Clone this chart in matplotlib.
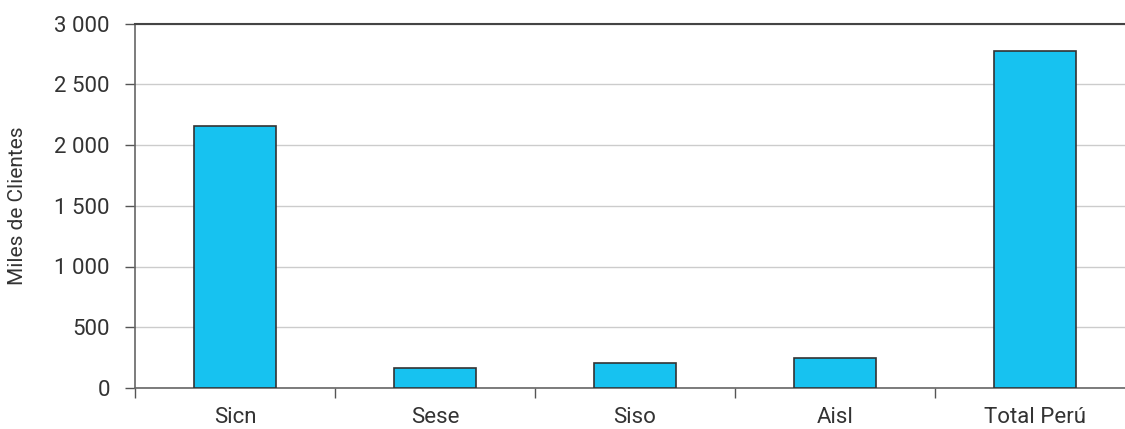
import matplotlib
matplotlib.use("Agg")
import matplotlib.pyplot as plt
from matplotlib.ticker import FixedLocator, FuncFormatter

categories = ["Sicn", "Sese", "Siso", "Aisl", "Total Perú"]
values = [2153, 168, 204, 243, 2777]
yticks = [0, 500, 1000, 1500, 2000, 2500, 3000]

plt.rcParams['font.family'] = ['Roboto', 'DejaVu Sans']

fig = plt.figure(figsize=(11.25, 4.29), dpi=100)
ax = fig.add_axes([135/1125, 41/429, 1000/1125, 364.5/429])

x = list(range(len(categories)))
ax.bar(x, values, width=0.41, color="#17C2F0", edgecolor="#333333", linewidth=1.2, zorder=3)

ax.set_xlim(-0.5, len(categories) - 0.5)
ax.set_ylim(0, 3000)
ax.set_yticks(yticks)
ax.yaxis.set_major_formatter(FuncFormatter(lambda v, p: f"{int(v):,}".replace(",", " ")))
ax.grid(axis="y", color="#cccccc", linewidth=1, zorder=0)

ax.set_xticks(x)
ax.set_xticklabels(categories)
ax.tick_params(axis="x", which="major", length=0, pad=14, labelsize=16, colors="#333333")
ax.xaxis.set_minor_locator(FixedLocator([i - 0.5 for i in range(len(categories) + 1)]))
ax.tick_params(axis="x", which="minor", length=7, width=1, color="#555555", direction="out")
ax.tick_params(axis="y", length=7, width=1, color="#555555", labelsize=16, labelcolor="#333333", pad=11)

for s in ["left", "bottom"]:
    ax.spines[s].set_color("#666666")
    ax.spines[s].set_linewidth(1.2)
ax.spines["top"].set_color("#444444")
ax.spines["top"].set_linewidth(1.5)
ax.spines["right"].set_visible(False)

ax.set_ylabel("Miles de Clientes", fontsize=15, color="#333333")
ax.yaxis.set_label_coords(-108/1000, 0.5)

fig.savefig("out.png", dpi=100)
